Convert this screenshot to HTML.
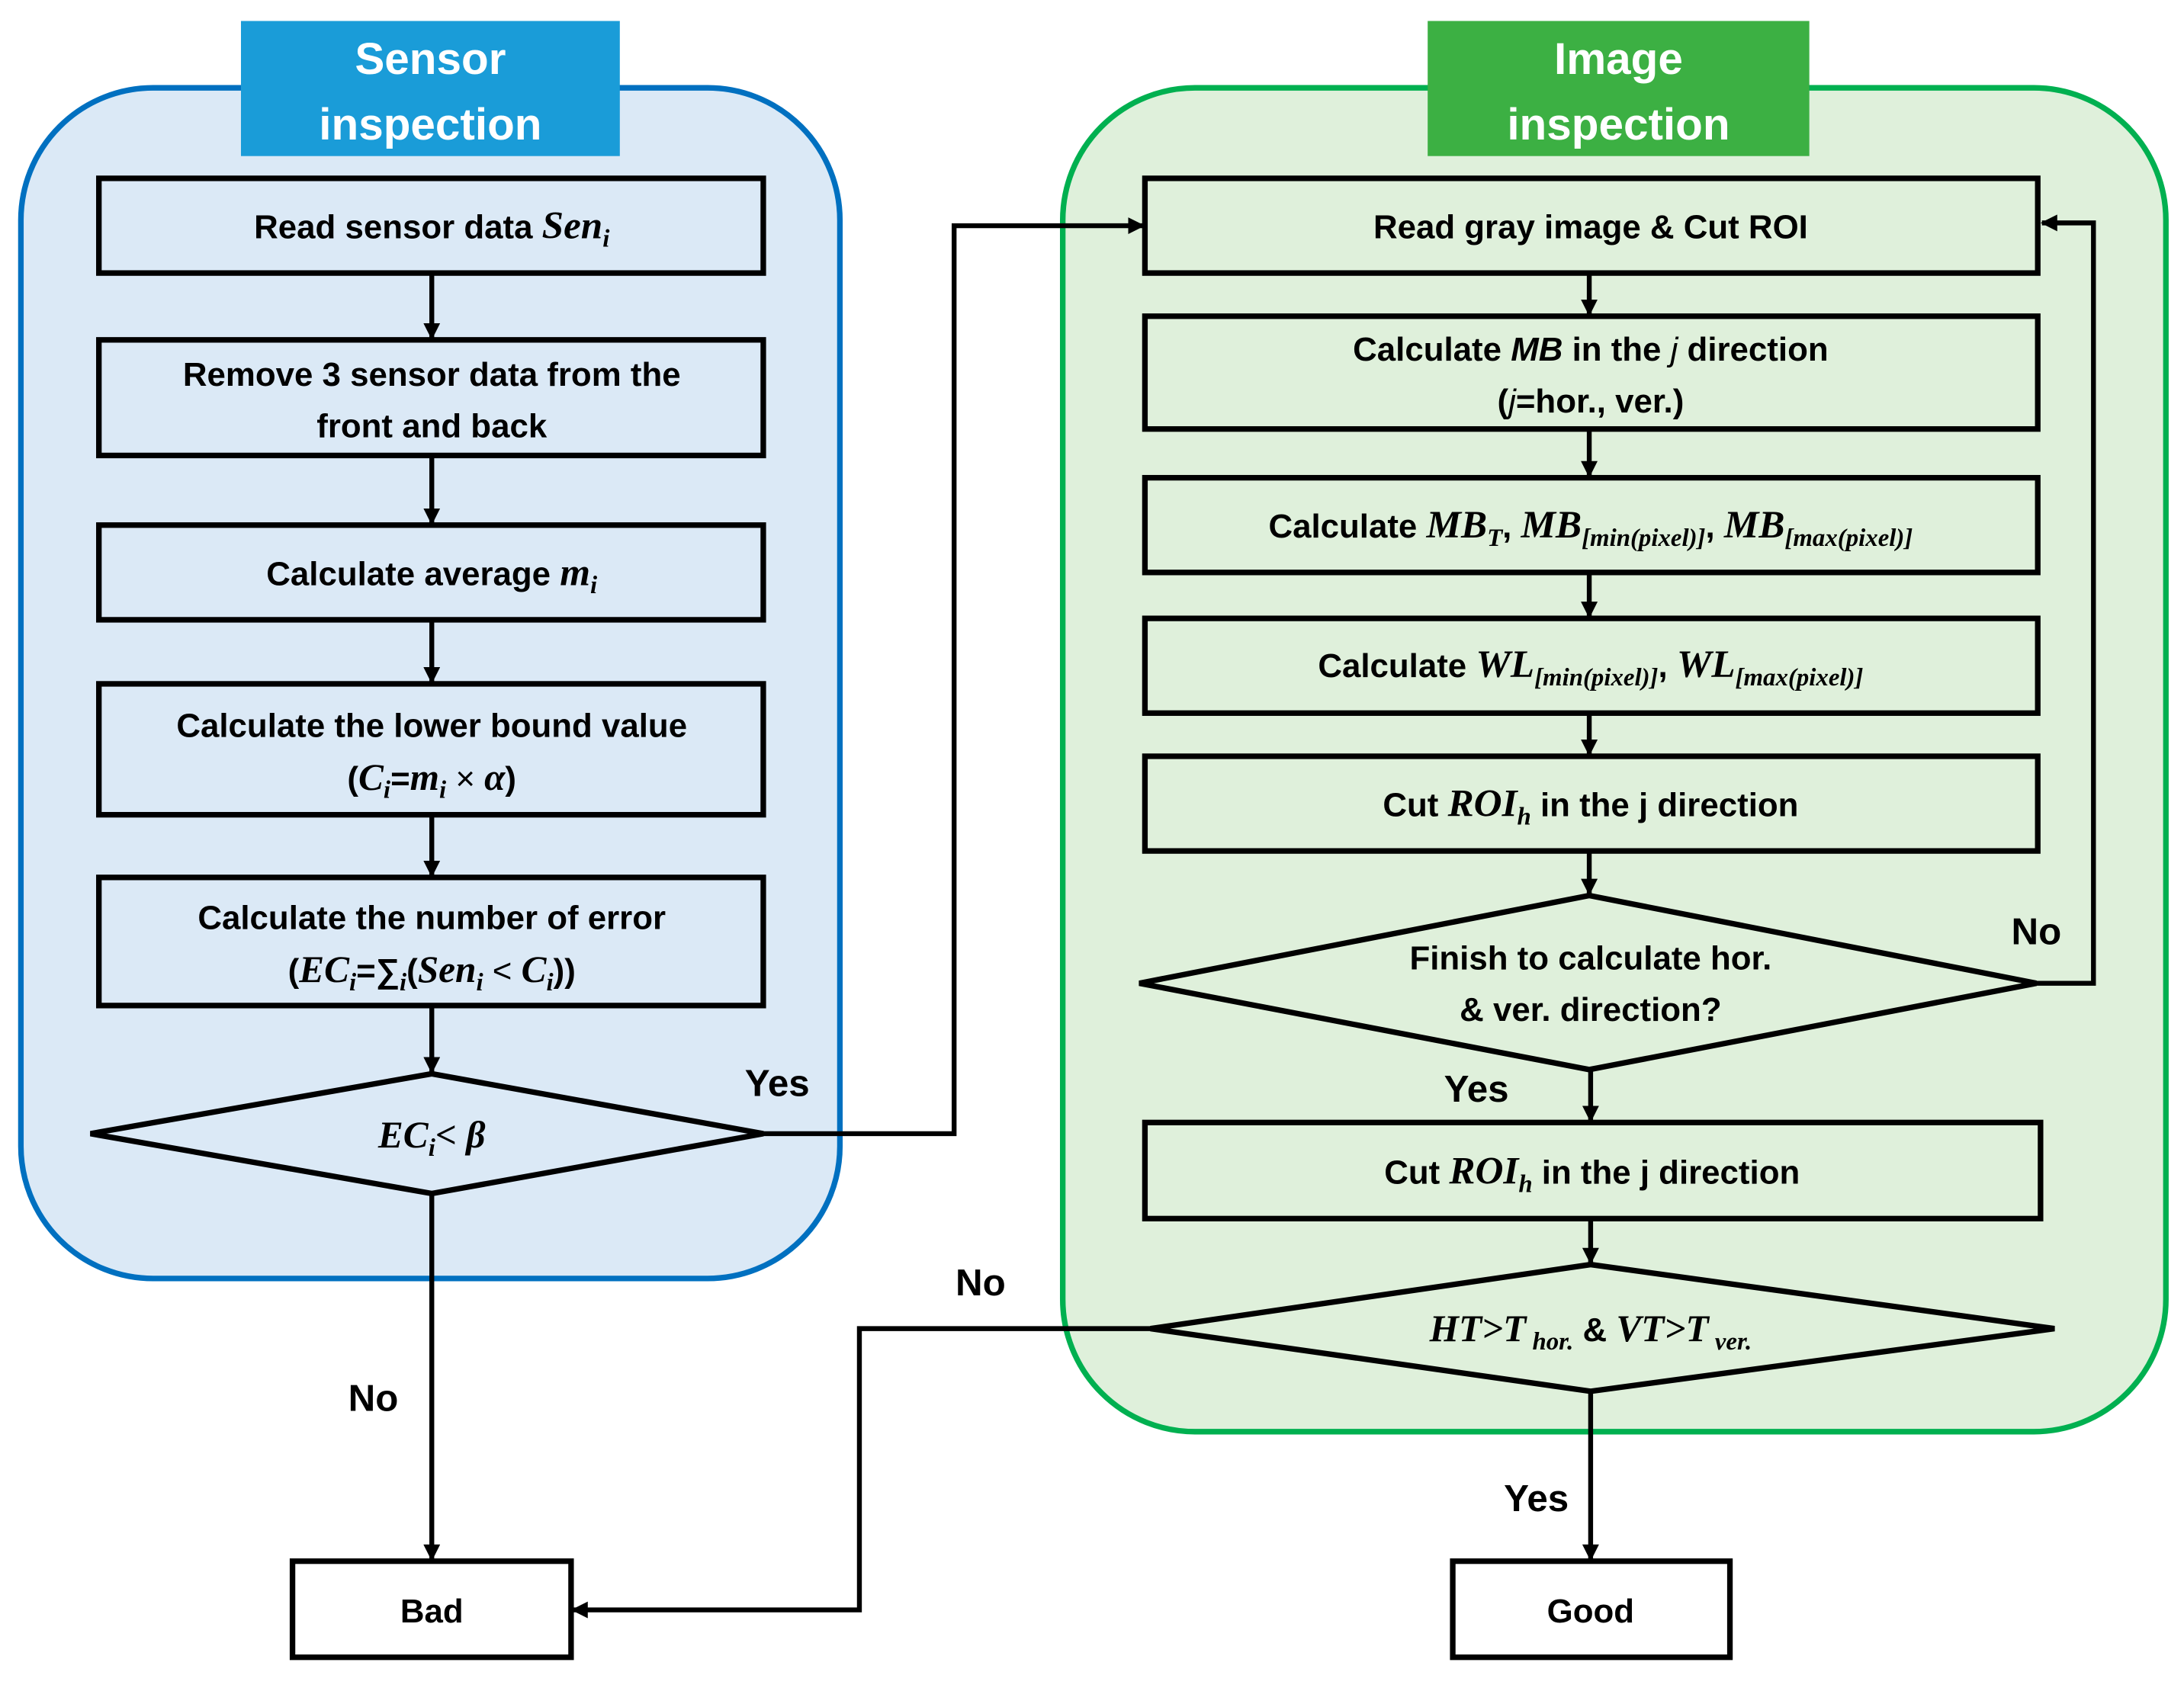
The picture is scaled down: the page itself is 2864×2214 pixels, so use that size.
<!DOCTYPE html>
<html><head><meta charset="utf-8"><style>
html,body{margin:0;padding:0;background:#fff;}
svg{display:block;}
.t{font-family:"Liberation Sans",sans-serif;font-weight:bold;font-size:24px;fill:#000;}
.m{font-family:"Liberation Serif",serif;font-style:italic;font-weight:bold;}
.s{font-size:18px;}
.h{font-family:"Liberation Sans",sans-serif;font-weight:bold;font-size:32px;fill:#fff;}
.l{font-family:"Liberation Sans",sans-serif;font-weight:bold;font-size:27px;fill:#000;}
</style></head><body>
<svg width="2864" height="2214" viewBox="0 0 1568 1212" xmlns="http://www.w3.org/2000/svg">
<defs><marker id="a" markerWidth="12" markerHeight="12" refX="11" refY="6" orient="auto" markerUnits="userSpaceOnUse"><path d="M0,0 L12,6 L0,12 z" fill="#000"/></marker></defs>
<rect x="15" y="63" width="588" height="855" rx="95" fill="#dbe9f6" stroke="#0070c0" stroke-width="4"/>
<rect x="763" y="63" width="792" height="965" rx="95" fill="#dff0db" stroke="#00b050" stroke-width="4"/>
<rect x="173" y="15" width="272" height="97" fill="#1a9cd8"/>
<rect x="1025" y="15" width="274" height="97" fill="#3cb043"/>
<text class="h" x="309" y="53" text-anchor="middle">Sensor</text>
<text class="h" x="309" y="100" text-anchor="middle">inspection</text>
<text class="h" x="1162" y="53" text-anchor="middle">Image</text>
<text class="h" x="1162" y="100" text-anchor="middle">inspection</text>
<g fill="none" stroke="#000" stroke-width="4">
<rect x="71" y="128" width="477" height="68"/>
<rect x="71" y="244" width="477" height="83"/>
<rect x="71" y="377" width="477" height="68"/>
<rect x="71" y="491" width="477" height="94"/>
<rect x="71" y="630" width="477" height="92"/>
<path d="M65,814 L310,771 L548,814 L310,857 Z"/>
<rect x="210" y="1121" width="200" height="69" fill="#fff"/>
<rect x="1043" y="1121" width="199" height="69" fill="#fff"/>
<rect x="822" y="128" width="641" height="68"/>
<rect x="822" y="227" width="641" height="81"/>
<rect x="822" y="343" width="641" height="68"/>
<rect x="822" y="444" width="641" height="68"/>
<rect x="822" y="543" width="641" height="68"/>
<path d="M818,706 L1141,643 L1462,706 L1141,768 Z"/>
<rect x="822" y="806" width="643" height="69"/>
<path d="M826,954 L1142,908 L1475,954 L1142,999 Z"/>
</g>
<g fill="none" stroke="#000" stroke-width="3.5" marker-end="url(#a)">
<line x1="310" y1="196" x2="310" y2="243"/>
<line x1="310" y1="327" x2="310" y2="376"/>
<line x1="310" y1="445" x2="310" y2="490"/>
<line x1="310" y1="585" x2="310" y2="629"/>
<line x1="310" y1="722" x2="310" y2="770"/>
<line x1="310" y1="857" x2="310" y2="1120"/>
<polyline points="548,814 685,814 685,162 821,162"/>
<line x1="1141" y1="196" x2="1141" y2="226"/>
<line x1="1141" y1="308" x2="1141" y2="342"/>
<line x1="1141" y1="411" x2="1141" y2="443"/>
<line x1="1141" y1="512" x2="1141" y2="542"/>
<line x1="1141" y1="611" x2="1141" y2="642"/>
<polyline points="1462,706 1503,706 1503,160 1466,160"/>
<line x1="1142" y1="768" x2="1142" y2="805"/>
<line x1="1142" y1="875" x2="1142" y2="907"/>
<polyline points="826,954 617,954 617,1156 411,1156"/>
<line x1="1142" y1="999" x2="1142" y2="1120"/>
</g>
<text class="t" x="310" y="171" text-anchor="middle">Read sensor data <tspan class="m" font-size="28">Sen</tspan><tspan class="m s" dy="6">i</tspan></text>
<text class="t" x="310" y="277" text-anchor="middle">Remove 3 sensor data from the</text>
<text class="t" x="310" y="314" text-anchor="middle">front and back</text>
<text class="t" x="310" y="420" text-anchor="middle">Calculate average <tspan class="m" font-size="28">m</tspan><tspan class="m s" dy="6">i</tspan></text>
<text class="t" x="310" y="529" text-anchor="middle">Calculate the lower bound value</text>
<text class="t" x="310" y="567" text-anchor="middle">(<tspan class="m" font-size="27">C</tspan><tspan class="m s" dy="6">i</tspan><tspan dy="-6">=</tspan><tspan class="m" font-size="27">m</tspan><tspan class="m s" dy="6">i</tspan><tspan dy="-6" font-weight="normal"> × </tspan><tspan class="m" font-size="27">α</tspan>)</text>
<text class="t" x="310" y="667" text-anchor="middle">Calculate the number of error</text>
<text class="t" x="310" y="705" text-anchor="middle">(<tspan class="m" font-size="27">EC</tspan><tspan class="m s" dy="6">i</tspan><tspan dy="-6">=∑</tspan><tspan class="m s" dy="6">i</tspan><tspan dy="-6">(</tspan><tspan class="m" font-size="27">Sen</tspan><tspan class="m s" dy="6">i</tspan><tspan dy="-6" font-weight="normal"> &lt; </tspan><tspan class="m" font-size="27">C</tspan><tspan class="m s" dy="6">i</tspan><tspan dy="-6">))</tspan></text>
<text class="t" x="310" y="824" text-anchor="middle"><tspan class="m" font-size="27">EC</tspan><tspan class="m s" dy="6">i</tspan><tspan dy="-6" class="m" font-size="27">&lt; β</tspan></text>
<text class="t" x="310" y="1165" text-anchor="middle">Bad</text>
<text class="t" x="1142" y="1165" text-anchor="middle">Good</text>
<text class="t" x="1142" y="171" text-anchor="middle">Read gray image &amp; Cut ROI</text>
<text class="t" x="1142" y="259" text-anchor="middle">Calculate <tspan font-style="italic">MB</tspan> in the <tspan font-style="italic" font-weight="normal">j</tspan> direction</text>
<text class="t" x="1142" y="296" text-anchor="middle">(<tspan font-style="italic" font-weight="normal">j</tspan>=hor., ver.)</text>
<text class="t" x="1142" y="386" text-anchor="middle">Calculate <tspan class="m" font-size="28">MB</tspan><tspan class="m s" dy="6">T</tspan><tspan dy="-6">, </tspan><tspan class="m" font-size="28">MB</tspan><tspan class="m s" dy="6">[min(pixel)]</tspan><tspan dy="-6">, </tspan><tspan class="m" font-size="28">MB</tspan><tspan class="m s" dy="6">[max(pixel)]</tspan></text>
<text class="t" x="1142" y="486" text-anchor="middle">Calculate <tspan class="m" font-size="28">WL</tspan><tspan class="m s" dy="6">[min(pixel)]</tspan><tspan dy="-6">, </tspan><tspan class="m" font-size="28">WL</tspan><tspan class="m s" dy="6">[max(pixel)]</tspan></text>
<text class="t" x="1142" y="586" text-anchor="middle">Cut <tspan class="m" font-size="28">ROI</tspan><tspan class="m s" dy="6">h</tspan><tspan dy="-6"> in the j direction</tspan></text>
<text class="t" x="1142" y="696" text-anchor="middle">Finish to calculate hor.</text>
<text class="t" x="1142" y="733" text-anchor="middle">&amp; ver. direction?</text>
<text class="t" x="1143" y="850" text-anchor="middle">Cut <tspan class="m" font-size="28">ROI</tspan><tspan class="m s" dy="6">h</tspan><tspan dy="-6"> in the j direction</tspan></text>
<text class="t" x="1142" y="963" text-anchor="middle"><tspan class="m" font-size="27">HT&gt;T</tspan><tspan class="m s" dy="6"> hor.</tspan><tspan dy="-6"> &amp; </tspan><tspan class="m" font-size="27">VT&gt;T</tspan><tspan class="m s" dy="6"> ver.</tspan></text>
<text class="l" x="558" y="787" text-anchor="middle">Yes</text>
<text class="l" x="268" y="1013" text-anchor="middle">No</text>
<text class="l" x="1462" y="678" text-anchor="middle">No</text>
<text class="l" x="1060" y="791" text-anchor="middle">Yes</text>
<text class="l" x="704" y="930" text-anchor="middle">No</text>
<text class="l" x="1103" y="1085" text-anchor="middle">Yes</text>
</svg>
</body></html>
